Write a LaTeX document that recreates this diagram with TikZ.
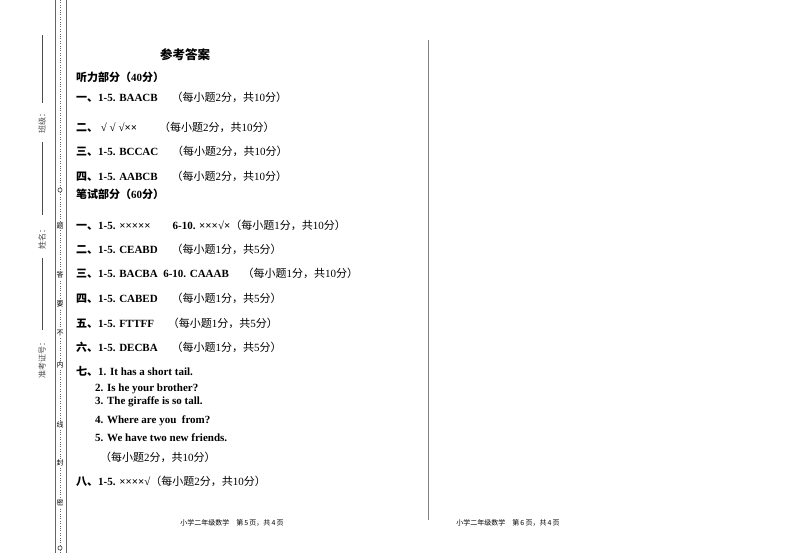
\documentclass[tikz,border=0pt]{standalone}
\usepackage{fontspec}
\setmainfont{Liberation Serif}
\newfontfamily\cjk{Noto Sans CJK SC}
\newcommand{\zh}[1]{{\cjk #1}}
\begin{document}
\begin{tikzpicture}[x=1pt,y=-1pt,
  t/.style={anchor=west,inner sep=0,font=\fontsize{11}{13}\selectfont\bfseries},
  n/.style={anchor=west,inner sep=0,font=\fontsize{11}{13}\selectfont},
  m/.style={inner sep=0,font=\fontsize{8}{10}\selectfont\cjk,rotate=90,text=black!70},
  sm/.style={inner sep=0,font=\fontsize{7}{9}\selectfont\cjk}]
\useasboundingbox[fill=white] (0,0) rectangle (800,553);
% left border
\draw[black!60,line width=0.8] (55,0) -- (55,553);
\draw[black!60,line width=0.8] (66,0) -- (66,553);
\draw[black!60,dotted] (60,0) -- (60,553);
\foreach \y/\c in {226/题,275/答,304/要,333/不,365/内,425/线,463/封,503/密}
  \node[sm,fill=white,inner sep=1pt] (c\y) at (60,\y) {\c};
\node[draw,circle,fill=white,inner sep=1.5pt] (o1) at (60,190) {};
\node[draw,circle,fill=white,inner sep=1.5pt] (o2) at (60,548) {};
\draw[black!70] (42,35) -- (42,103);
\node[m] (l1) at (42,122) {班级：};
\draw[black!70] (42,142) -- (42,215);
\node[m] (l2) at (42,238) {姓名：};
\draw[black!70] (42,258) -- (42,330);
\node[m] (l3) at (42,358) {准考证号：};
% middle divider
\draw[black!50] (428,40) -- (428,520);
% content
\node[inner sep=0,font=\fontsize{12.5}{14}\selectfont\cjk\bfseries] (title) at (185,55) {参考答案};
\node[t] (a0) at (76,77) {\zh{听力部分（}40\zh{分）}};
\node[t] (a1) at (76,97) {\zh{一、}1-5. BAACB \mdseries\quad\zh{（每小题}2\zh{分，共}10\zh{分）}};
\node[t] (a2) at (76,127) {\zh{二、} √ √ √××\mdseries\qquad\zh{（每小题}2\zh{分，共}10\zh{分）}};
\node[t] (a3) at (76,151) {\zh{三、}1-5. BCCAC \mdseries\quad\zh{（每小题}2\zh{分，共}10\zh{分）}};
\node[t] (a4) at (76,176) {\zh{四、}1-5. AABCB \mdseries\quad\zh{（每小题}2\zh{分，共}10\zh{分）}};
\node[t] (b0) at (76,194) {\zh{笔试部分（}60\zh{分）}};
\node[t] (b1) at (76,225) {\zh{一、}1-5. ×××××\qquad 6-10. ×××√×\mdseries\zh{（每小题}1\zh{分，共}10\zh{分）}};
\node[t] (b2) at (76,249) {\zh{二、}1-5. CEABD \mdseries\quad\zh{（每小题}1\zh{分，共}5\zh{分）}};
\node[t] (b3) at (76,273) {\zh{三、}1-5. BACBA\ \ 6-10. CAAAB \mdseries\quad\zh{（每小题}1\zh{分，共}10\zh{分）}};
\node[t] (b4) at (76,298) {\zh{四、}1-5. CABED \mdseries\quad\zh{（每小题}1\zh{分，共}5\zh{分）}};
\node[t] (b5) at (76,323) {\zh{五、}1-5. FTTFF \mdseries\quad\zh{（每小题}1\zh{分，共}5\zh{分）}};
\node[t] (b6) at (76,347) {\zh{六、}1-5. DECBA \mdseries\quad\zh{（每小题}1\zh{分，共}5\zh{分）}};
\node[t] (b7) at (76,371) {\zh{七、}1. It has a short tail.};
\node[t] (s2) at (95,389) {2. Is he your brother?};
\node[t] (s3) at (95,402) {3. The giraffe is so tall.};
\node[t] (s4) at (95,421) {4. Where are you\ \ from?};
\node[t] (s5) at (95,438) {5. We have two new friends.};
\node[n] (s6) at (100,457) {\zh{（每小题}2\zh{分，共}10\zh{分）}};
\node[t] (b8) at (76,481) {\zh{八、}1-5. ××××√\mdseries\zh{（每小题}2\zh{分，共}10\zh{分）}};
\node[sm] (f1) at (232,523) {小学二年级数学\quad 第\,5\,页，共\,4\,页};
\node[sm] (f2) at (508,523) {小学二年级数学\quad 第\,6\,页，共\,4\,页};
\end{tikzpicture}
\end{document}
